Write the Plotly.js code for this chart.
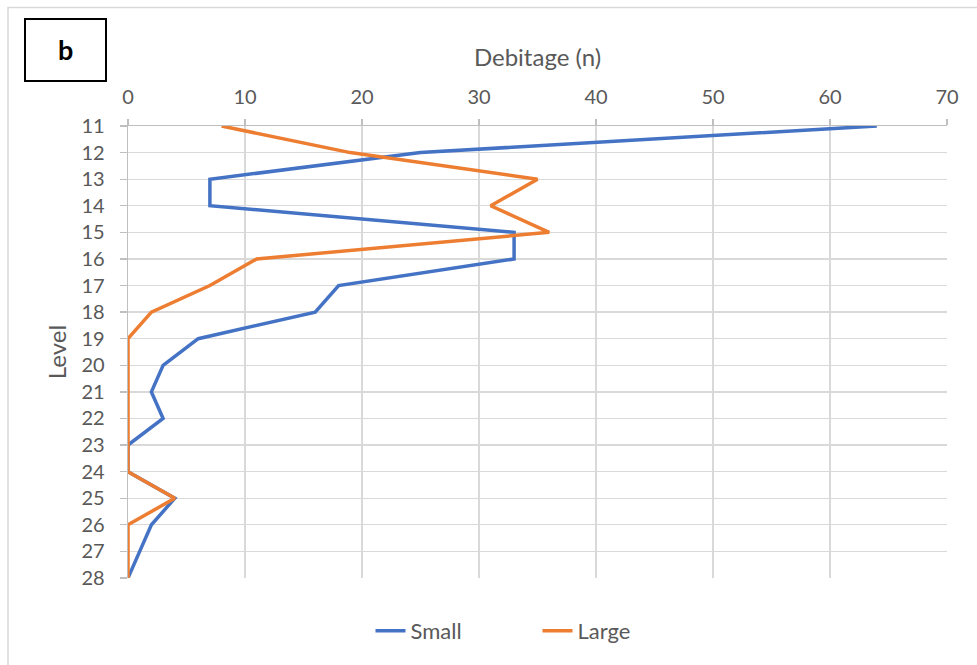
<!DOCTYPE html>
<html>
<head>
<meta charset="utf-8">
<script src="https://cdn.plot.ly/plotly-3.0.1.min.js"></script>
<style>html,body{margin:0;padding:0;background:#fff;}#chart{width:977px;height:665px;}</style>
</head>
<body>
<div id="chart"></div>
<script>
const levels = [11,12,13,14,15,16,17,18,19,20,21,22,23,24,25,26,27,28];
const small  = [64,25,7,7,33,33,18,16,6,3,2,3,0,0,4,2,1,0];
const large  = [8,19,35,31,36,11,7,2,0,0,0,0,0,0,4,0,0,0];
const seriesNames = ['Small','Large'];
const xTitle = 'Debitage (n)';
const yTitle = 'Level';
const panelLabel = 'b';

const FONT = 'Lato, "Open Sans", sans-serif';
const TXT = '#595959';

const traces = [
  {x: small, y: levels, name: seriesNames[0], type: 'scatter', mode: 'lines',
   line: {color: '#4472C4', width: 3.5}},
  {x: large, y: levels, name: seriesNames[1], type: 'scatter', mode: 'lines',
   line: {color: '#ED7D31', width: 3.5}}
];

const layout = {
  width: 977, height: 665,
  margin: {l: 128, r: 30, t: 126, b: 87},
  paper_bgcolor: '#fff', plot_bgcolor: '#fff',
  font: {family: FONT, color: TXT, size: 20},
  showlegend: true,
  legend: {orientation: 'h', x: 0.5, xanchor: 'center', y: -0.117, yanchor: 'middle',
           font: {family: FONT, size: 22, color: TXT}, entrywidth: 122, entrywidthmode: 'pixels',
           tracegroupgap: 0},
  xaxis: {
    side: 'top', range: [0, 70], dtick: 10, tick0: 0,
    showgrid: true, gridcolor: '#d9d9d9', gridwidth: 1.3,
    showline: true, linecolor: '#bfbfbf', linewidth: 1.3,
    ticks: 'outside', ticklen: 6, tickcolor: '#bfbfbf', tickwidth: 1.3,
    zeroline: false, fixedrange: true, ticklabelstandoff: 7,
    tickfont: {family: FONT, size: 20, color: TXT},
    title: {text: xTitle, font: {family: FONT, size: 24, color: TXT}, standoff: 10}
  },
  yaxis: {
    range: [28, 11], dtick: 1, tick0: 11,
    showgrid: true, gridcolor: '#d9d9d9', gridwidth: 1.3,
    showline: true, linecolor: '#bfbfbf', linewidth: 1.3,
    ticks: 'outside', ticklen: 7, tickcolor: '#bfbfbf', tickwidth: 1.3,
    zeroline: false, fixedrange: true, ticklabelstandoff: 11,
    tickfont: {family: FONT, size: 20, color: TXT},
    title: {text: yTitle, font: {family: FONT, size: 24, color: TXT}, standoff: 8}
  },
  shapes: [
    {type: 'rect', xref: 'paper', yref: 'paper',
     x0: (8-128)/819, x1: (1000-128)/819, y0: (578-700)/452, y1: (578-7.5)/452,
     line: {color: '#d9d9d9', width: 1.5}, fillcolor: 'rgba(0,0,0,0)', layer: 'below'},
    {type: 'rect', xref: 'paper', yref: 'paper',
     x0: (25-128)/819, x1: (106-128)/819, y0: (578-81)/452, y1: (578-19)/452,
     line: {color: '#000', width: 2}, fillcolor: '#fff'}
  ],
  annotations: [
    {xref: 'paper', yref: 'paper', x: (65.5-128)/819, y: (578-50)/452,
     text: '<b>' + panelLabel + '</b>', showarrow: false,
     font: {family: FONT, size: 27, color: '#000'}, xanchor: 'center', yanchor: 'middle'}
  ]
};

Plotly.newPlot('chart', traces, layout, {displayModeBar: false, staticPlot: true});
</script>
</body>
</html>
